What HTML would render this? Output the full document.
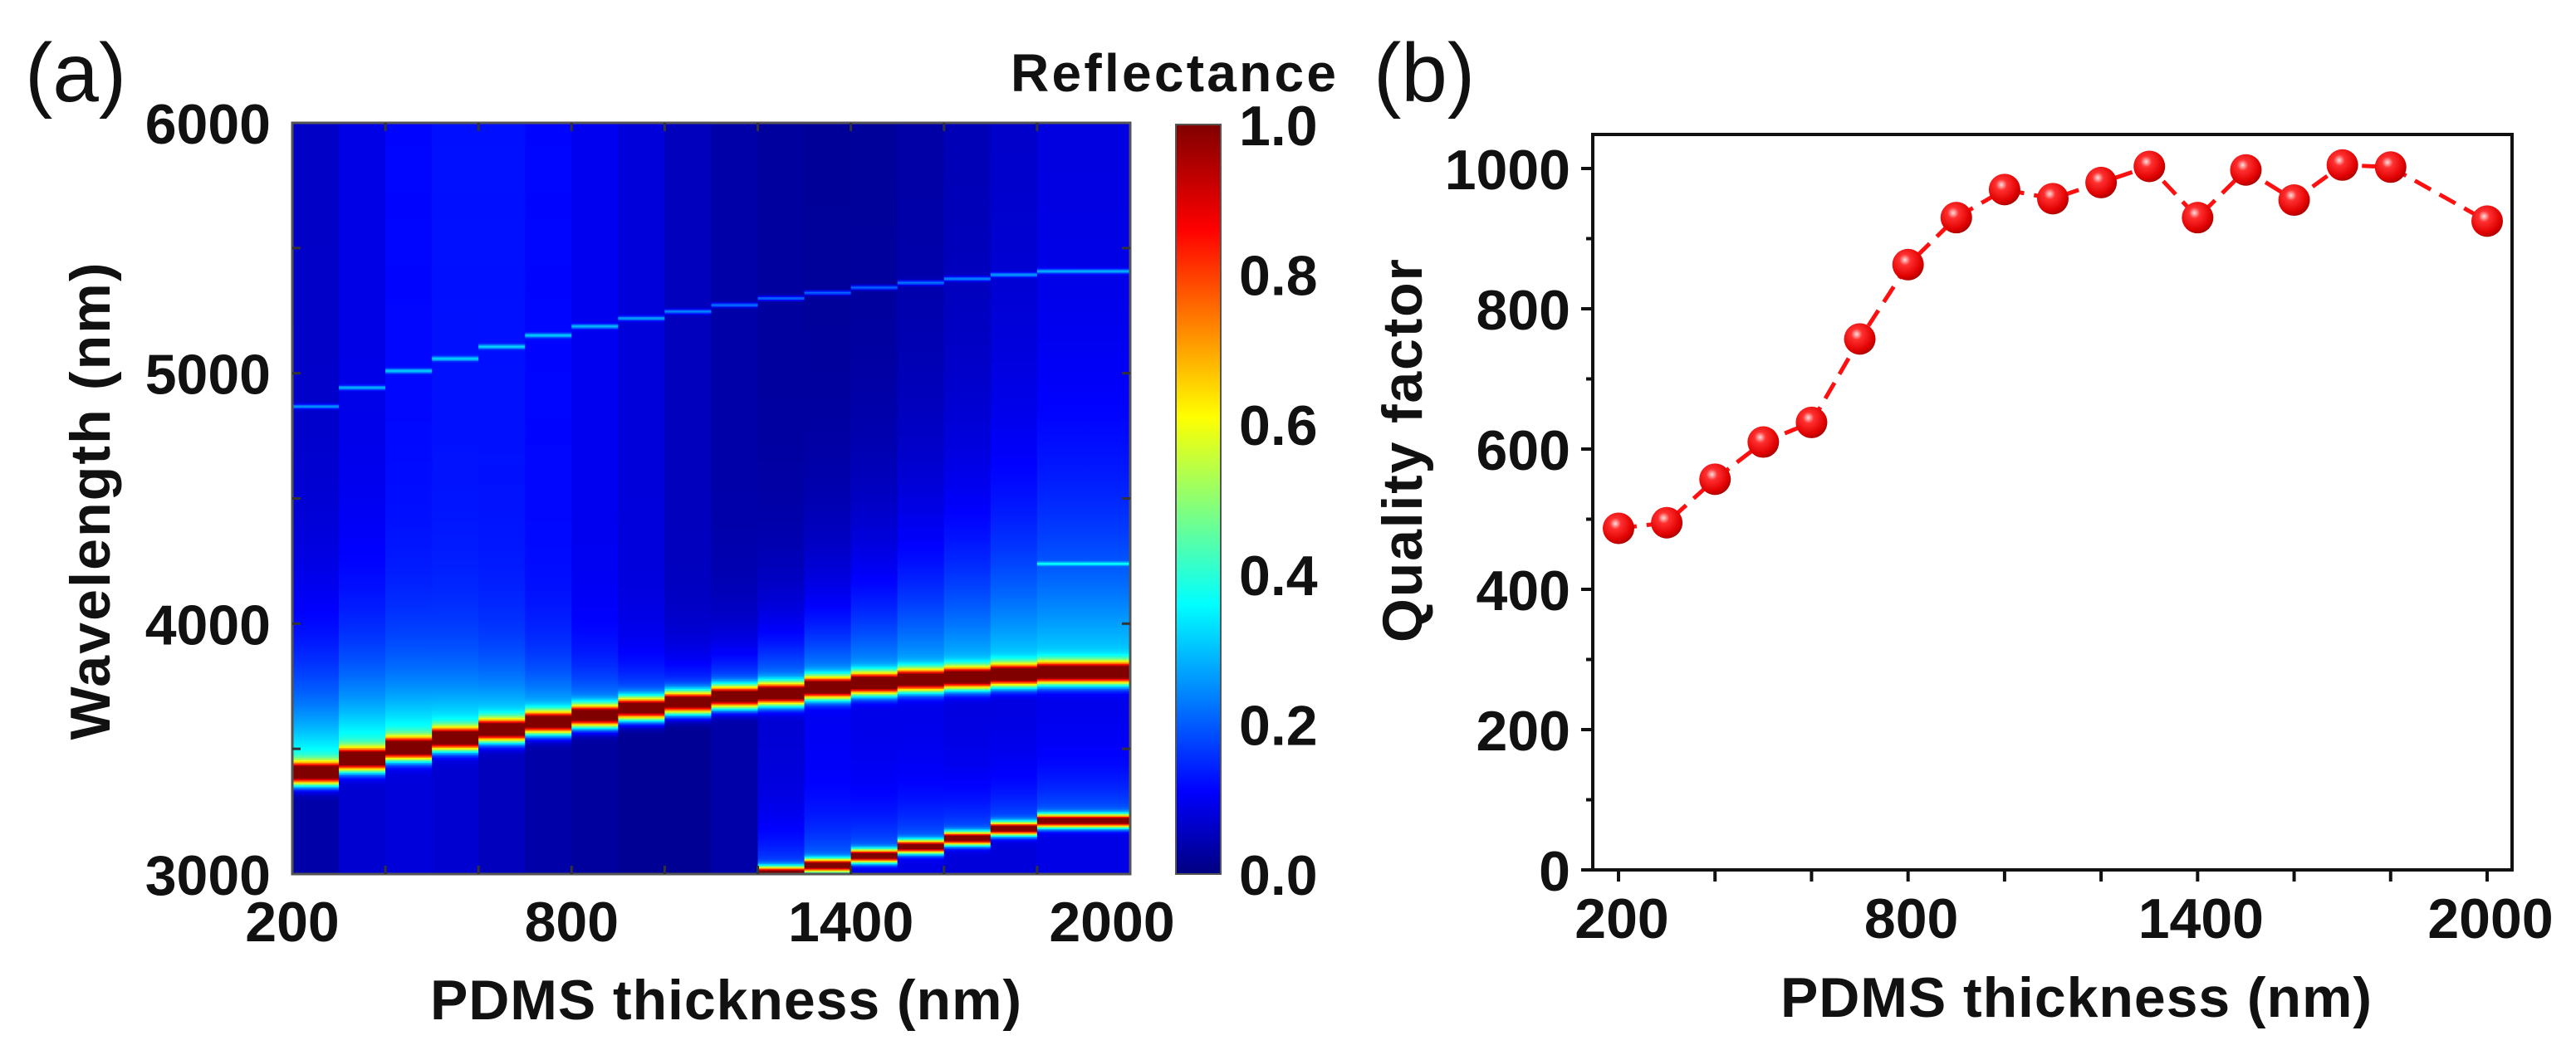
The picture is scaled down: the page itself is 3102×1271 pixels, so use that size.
<!DOCTYPE html>
<html><head><meta charset="utf-8"><style>
html,body{margin:0;padding:0;background:#fff;}
svg{display:block;font-family:"Liberation Sans",sans-serif;}
.t{font-weight:bold;fill:#111;}
</style></head><body>
<svg id="fig" width="3102" height="1271" viewBox="0 0 3102 1271" xmlns="http://www.w3.org/2000/svg">
<defs>
<linearGradient id="jet" x1="0" y1="1" x2="0" y2="0">
<stop offset="0" stop-color="#000080"/><stop offset="0.11" stop-color="#0000ff"/><stop offset="0.36" stop-color="#00ffff"/><stop offset="0.61" stop-color="#ffff00"/><stop offset="0.86" stop-color="#ff0000"/><stop offset="1" stop-color="#800000"/>
</linearGradient>
<radialGradient id="ball" cx="0.4" cy="0.35" r="0.7">
<stop offset="0" stop-color="#ffe0e0"/><stop offset="0.25" stop-color="#ff3030"/><stop offset="0.75" stop-color="#e00000"/><stop offset="1" stop-color="#a00000"/>
</radialGradient>
</defs>
<g id="heat"></g>
<g id="axA"></g>
<g id="axB"></g>
<text x="30" y="122" font-size="100" fill="#111">(a)</text>
<text x="1654" y="122" font-size="100" fill="#111">(b)</text>
<text class="t" x="1217" y="110" font-size="64" textLength="392">Reflectance</text>
<rect x="1416" y="150" width="54" height="903" fill="url(#jet)" stroke="#555" stroke-width="2"/>
<text class="t" x="874" y="1228" font-size="68" text-anchor="middle" textLength="712">PDMS thickness (nm)</text>
<text class="t" transform="translate(132,604) rotate(-90)" font-size="68" text-anchor="middle" textLength="575">Wavelength (nm)</text>
<text class="t" x="2500" y="1225" font-size="68" text-anchor="middle" textLength="712">PDMS thickness (nm)</text>
<text class="t" transform="translate(1712,543) rotate(-90)" font-size="68" text-anchor="middle" textLength="462">Quality factor</text>
</svg>
<script>
// ---- Panel (a) data ----
const thickCols = [200,300,400,500,600,700,800,900,1000,1100,1200,1300,1400,1500,1600,1700,1800,1900];
const mainPeak = [3397,3453,3497,3536,3570,3601,3628,3657,3681,3704,3717,3742,3759,3772,3781,3792,3801,3801];
const upperPeak = [4868,4943,5010,5059,5107,5152,5188,5220,5247,5273,5300,5322,5343,5362,5378,5394,5408,5408];
const lowerPeak = [0,0,0,0,0,0,0,0,0,0,3003,3033,3071,3108,3141,3180,3211,3211];
const extraPeak = [0,0,0,0,0,0,0,0,0,0,0,0,0,0,0,0,4240,4240];
const bgHi = [0.07,0.10,0.13,0.14,0.14,0.13,0.11,0.09,0.06,0.04,0.03,0.025,0.025,0.035,0.05,0.07,0.09,0.09];
const tailAmp = [0.42,0.4,0.36,0.32,0.3,0.27,0.25,0.24,0.25,0.28,0.3,0.3,0.3,0.3,0.3,0.3,0.28,0.28];
const tailW = [320,300,260,230,200,170,140,120,120,150,220,300,380,450,480,500,520,520];
const bgLo = [0.04,0.08,0.09,0.08,0.06,0.04,0.03,0.02,0.02,0.04,0.08,0.11,0.1,0.1,0.09,0.09,0.1,0.1];
const xTicksA = [200,800,1400,2000];
const yTicksA = [3000,4000,5000,6000];
const cbTicks = ["0.0","0.2","0.4","0.6","0.8","1.0"];
// ---- Panel (b) data ----
const thickB = [200,300,400,500,600,700,800,900,1000,1100,1200,1300,1400,1500,1600,1700,1800,2000];
const qFactor = [487,495,557,610,638,757,863,930,970,957,980,1003,930,998,955,1005,1002,925];
const xTicksB = [200,800,1400,2000];
const yTicksB = [0,200,400,600,800,1000];

const NS="http://www.w3.org/2000/svg";
function mk(tag,attrs,parent){const e=document.createElementNS(NS,tag);for(const k in attrs)e.setAttribute(k,attrs[k]);parent.appendChild(e);return e;}
function jet(v){v=Math.max(0,Math.min(1,v));const c=x=>Math.round(255*Math.max(0,Math.min(1,1.5-Math.abs(x))));return `rgb(${c(4*v-3)},${c(4*v-2)},${c(4*v-1)})`;}

const AX0=352,AX1=1361,AY0=148,AY1=1053;
const xa=t=>AX0+(t-200)/1800*(AX1-AX0);
const ya=l=>AY1-(l-3000)/3000*(AY1-AY0);
const heat=document.getElementById('heat');
const step=5;
for(let i=0;i<thickCols.length;i++){
  const x0=xa(thickCols[i]), x1=xa(thickCols[i]+100);
  for(let l=3000;l<6000;l+=step){
    const lc=l+step/2;
    let v;
    const d=lc-mainPeak[i];
    if(d>0){v=bgHi[i]+tailAmp[i]*Math.exp(-d/tailW[i]);}
    else{v=bgLo[i];}
    v+=1.05*Math.exp(-d*d/(2*30*30));
    const du=lc-upperPeak[i]; v+=0.2*Math.exp(-du*du/(2*6*6));
    if(lowerPeak[i]){const dl=lc-lowerPeak[i]; v+=0.95*Math.exp(-dl*dl/(2*18*18)); if(dl>0&&lc<mainPeak[i]) v+=0.15*Math.exp(-dl/150);}
    if(extraPeak[i]){const de=lc-extraPeak[i]; v+=0.18*Math.exp(-de*de/(2*5*5));}
    const r=mk('rect',{x:x0.toFixed(1),y:(ya(l+step)-0.3).toFixed(1),width:(x1-x0+0.5).toFixed(1),height:(ya(l)-ya(l+step)+0.6).toFixed(1),fill:jet(v)},heat);
    
    
  }
}
const axA=document.getElementById('axA');
mk('rect',{x:AX0,y:AY0,width:AX1-AX0,height:AY1-AY0,fill:'none',stroke:'#555',"stroke-width":3},axA);
for(let t=400;t<2000;t+=200){mk('line',{x1:xa(t),x2:xa(t),y1:AY1,y2:AY1-10,stroke:'#333','stroke-width':3},axA);mk('line',{x1:xa(t),x2:xa(t),y1:AY0,y2:AY0+10,stroke:'#333','stroke-width':3},axA);}
for(let l=3500;l<6000;l+=500){mk('line',{x1:AX0,x2:AX0+10,y1:ya(l),y2:ya(l),stroke:'#333','stroke-width':3},axA);mk('line',{x1:AX1,x2:AX1-10,y1:ya(l),y2:ya(l),stroke:'#333','stroke-width':3},axA);}
xTicksA.forEach(t=>{let cx=xa(t); if(t===2000)cx-=22;
  const e=mk('text',{x:cx,y:1134,'font-size':68,'text-anchor':'middle',class:'t'},axA);e.textContent=t;
  });
yTicksA.forEach(l=>{const e=mk('text',{x:326,y:ya(l)+25,'font-size':68,'text-anchor':'end',class:'t'},axA);e.textContent=l;
  });
cbTicks.forEach((s,k)=>{const y=1053-k*(1053-150)/5;
  const e=mk('text',{x:1492,y:y+25,'font-size':68,class:'t'},axA);e.textContent=s;
  
  if(k>0&&k<5){mk('line',{x1:1470,x2:1462,y1:y,y2:y,stroke:'#333','stroke-width':3},axA);}
  if(k<5){const ym=y-(1053-150)/10;mk('line',{x1:1470,x2:1464,y1:ym,y2:ym,stroke:'#333','stroke-width':2},axA);}
});

const BX0=1918,BX1=3025,BY0=162,BY1=1048;
const xb=t=>1949+(t-200)/1800*(2995-1949);
const yb=v=>BY1-v*0.845;
const axB=document.getElementById('axB');
mk('rect',{x:BX0,y:BY0,width:BX1-BX0,height:BY1-BY0,fill:'none',stroke:'#111','stroke-width':4},axB);
for(let t=200;t<=2000;t+=200){mk('line',{x1:xb(t),x2:xb(t),y1:BY1,y2:BY1+14,stroke:'#111','stroke-width':4},axB);}
for(let v=0;v<=1000;v+=100){mk('line',{x1:BX0,x2:BX0-(v%200===0?14:8),y1:yb(v),y2:yb(v),stroke:'#111','stroke-width':4},axB);}
xTicksB.forEach(t=>{const e=mk('text',{x:xb(t)+4,y:1130,'font-size':68,'text-anchor':'middle',class:'t'},axB);e.textContent=t;
  });
yTicksB.forEach(v=>{const e=mk('text',{x:1891,y:yb(v)+25,'font-size':68,'text-anchor':'end',class:'t'},axB);e.textContent=v;
  });
const pts=thickB.map((t,i)=>xb(t).toFixed(1)+','+yb(qFactor[i]).toFixed(1)).join(' ');
const ln=mk('polyline',{points:pts,fill:'none',stroke:'#ff1010','stroke-width':5,'stroke-dasharray':'22 12'},axB);


thickB.forEach((t,i)=>{const c=mk('circle',{cx:xb(t),cy:yb(qFactor[i]),r:19,fill:'url(#ball)'},axB);
  
  });
</script>
</body></html>
